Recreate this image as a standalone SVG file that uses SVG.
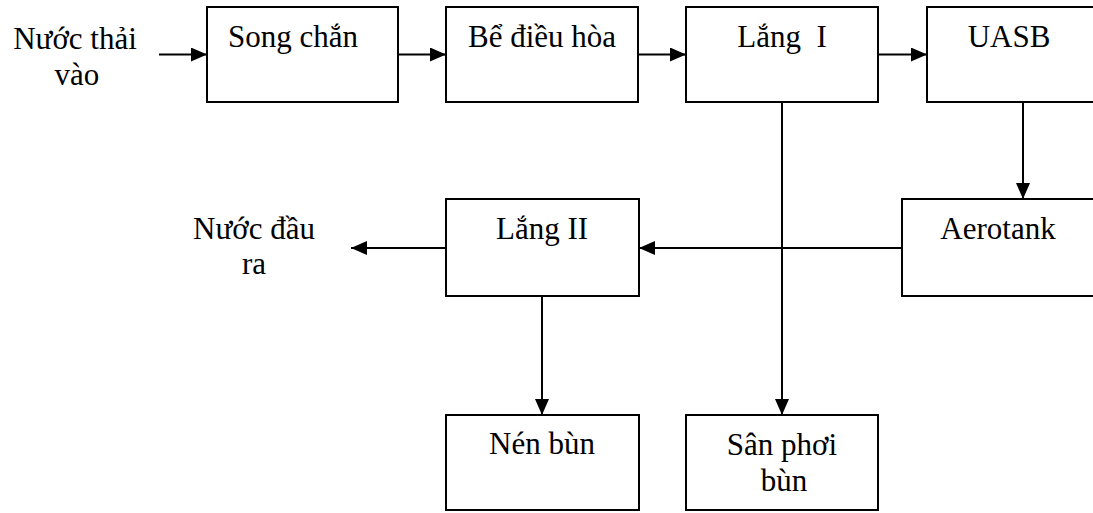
<svg xmlns="http://www.w3.org/2000/svg" width="1093" height="513" viewBox="0 0 1093 513">
  <style>
    .box { fill: #fff; stroke: #000; stroke-width: 2; }
    .lbl { font-size: 31px; fill: #000; text-anchor: middle; }
    .wire { fill: none; stroke: #000; stroke-width: 2; }
  </style>
  <defs>
    <marker id="head" viewBox="0 0 16 14" refX="16" refY="7" markerWidth="16" markerHeight="14" markerUnits="userSpaceOnUse" orient="auto">
      <path d="M0,0 L16,7 L0,14 Z" fill="#000"/>
    </marker>
  </defs>
  <rect width="1093" height="513" fill="#fff"/>

  <!-- connectors -->
  <g id="connectors">
    <line class="wire" x1="159" y1="54.5" x2="207" y2="54.5" marker-end="url(#head)"/>
    <line class="wire" x1="398" y1="54.5" x2="446" y2="54.5" marker-end="url(#head)"/>
    <line class="wire" x1="638" y1="54.5" x2="686" y2="54.5" marker-end="url(#head)"/>
    <line class="wire" x1="878" y1="54.5" x2="927" y2="54.5" marker-end="url(#head)"/>
    <line class="wire" x1="1023" y1="102" x2="1023" y2="199" marker-end="url(#head)"/>
    <line class="wire" x1="902" y1="248" x2="639" y2="248" marker-end="url(#head)"/>
    <line class="wire" x1="446" y1="248" x2="351" y2="248" marker-end="url(#head)"/>
    <line class="wire" x1="542" y1="296" x2="542" y2="415" marker-end="url(#head)"/>
    <line class="wire" x1="782" y1="102" x2="782" y2="415" marker-end="url(#head)"/>
  </g>

  <g font-family="Liberation Serif, Times New Roman, serif">
    <!-- free labels -->
    <g id="inlet">
      <text class="lbl" x="75" y="49">Nước thải</text>
      <text class="lbl" x="77" y="85">vào</text>
    </g>
    <g id="outlet">
      <text class="lbl" x="254" y="239">Nước đầu</text>
      <text class="lbl" x="254" y="274">ra</text>
    </g>

    <!-- process units -->
    <g id="song-chan">
      <rect class="box" x="207" y="7" width="191" height="95"/>
      <text class="lbl" x="293" y="47">Song chắn</text>
    </g>
    <g id="be-dieu-hoa">
      <rect class="box" x="446" y="7" width="192" height="95"/>
      <text class="lbl" x="542" y="47">Bể điều hòa</text>
    </g>
    <g id="lang-1">
      <rect class="box" x="686" y="7" width="192" height="95"/>
      <text class="lbl" x="782" y="47" xml:space="preserve">Lắng  I</text>
    </g>
    <g id="uasb">
      <rect class="box" x="927" y="7" width="192" height="95"/>
      <text class="lbl" x="1009" y="47">UASB</text>
    </g>
    <g id="aerotank">
      <rect class="box" x="902" y="199" width="192" height="97"/>
      <text class="lbl" x="998" y="239">Aerotank</text>
    </g>
    <g id="lang-2">
      <rect class="box" x="446" y="199" width="193" height="97"/>
      <text class="lbl" x="542" y="239">Lắng II</text>
    </g>
    <g id="nen-bun">
      <rect class="box" x="446" y="415" width="193" height="95"/>
      <text class="lbl" x="542" y="454">Nén bùn</text>
    </g>
    <g id="san-phoi-bun">
      <rect class="box" x="686" y="415" width="192" height="95"/>
      <text class="lbl" x="782" y="455">Sân phơi</text>
      <text class="lbl" x="784" y="491">bùn</text>
    </g>
  </g>
</svg>
